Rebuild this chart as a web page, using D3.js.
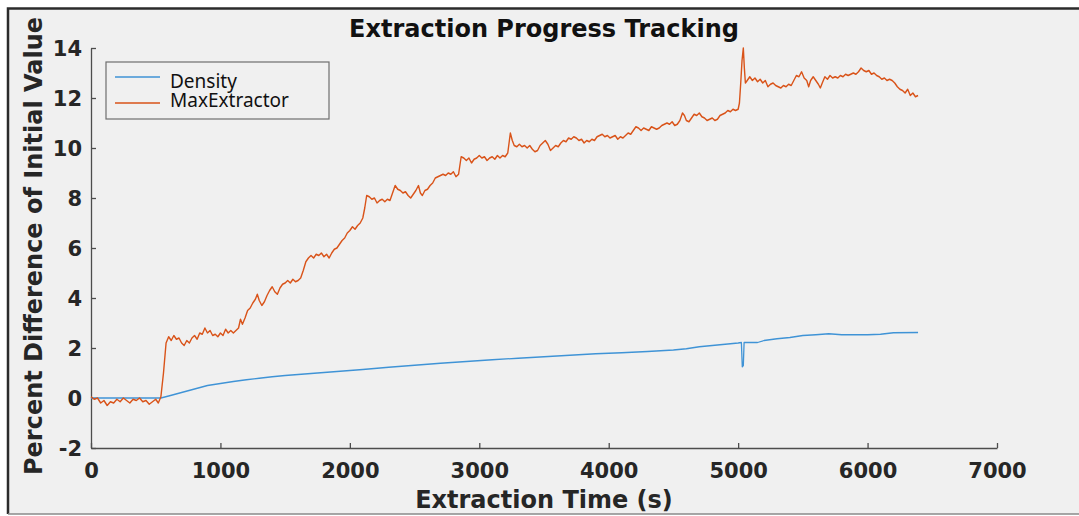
<!DOCTYPE html>
<html>
<head>
<meta charset="utf-8">
<script src="https://cdn.jsdelivr.net/npm/d3@7"></script>
<style>
  body { margin: 0; background: #fff; }
  svg { display: block; }
</style>
</head>
<body>
<svg id="chart" width="1079" height="516"></svg>
<script>
'use strict';

// tick values on both axes
var xTicks = [0, 1000, 2000, 3000, 4000, 5000, 6000, 7000];
var yTicks = [-2, 0, 2, 4, 6, 8, 10, 12, 14];

var seriesNames = ['Density', 'MaxExtractor'];
var seriesColors = ['#3f93d6', '#d95319'];

// [time (s), percent difference]
var density = [
  [0, 0.0], [200, 0.0], [400, 0.0], [540, 0.0], [600, 0.08], [700, 0.22], [800, 0.36],
  [900, 0.5], [1000, 0.58], [1100, 0.66], [1200, 0.73], [1300, 0.79], [1400, 0.85],
  [1500, 0.9], [1700, 0.98], [1900, 1.06], [2100, 1.14], [2300, 1.23], [2500, 1.31],
  [2700, 1.39], [2900, 1.46], [3100, 1.53], [3300, 1.59], [3500, 1.65], [3700, 1.71],
  [3900, 1.77], [4100, 1.81], [4300, 1.86], [4500, 1.92], [4600, 1.97], [4700, 2.05],
  [4800, 2.1], [4900, 2.15], [5000, 2.2], [5025, 2.22], [5032, 1.25], [5040, 1.3],
  [5046, 2.22], [5150, 2.22], [5200, 2.3], [5300, 2.37], [5400, 2.42], [5500, 2.5],
  [5600, 2.53], [5700, 2.57], [5800, 2.53], [5900, 2.53], [6000, 2.53], [6100, 2.55],
  [6200, 2.61], [6390, 2.62]
];

var maxExtractor = [
  [0, 0.05], [25, -0.05], [50, 0.0], [75, -0.2], [100, -0.1], [125, -0.3], [150, -0.15],
  [175, -0.2], [200, -0.05], [225, -0.15], [250, 0.0], [275, -0.1], [300, -0.2], [325, -0.05],
  [350, -0.1], [375, 0.0], [400, -0.15], [425, -0.1], [450, -0.25], [475, -0.15], [500, -0.05],
  [520, -0.2], [540, 0.05], [560, 1.0], [580, 2.2], [600, 2.45], [620, 2.3], [640, 2.5],
  [660, 2.35], [680, 2.4], [700, 2.2], [720, 2.1], [740, 2.3], [760, 2.2], [780, 2.4],
  [800, 2.5], [820, 2.35], [840, 2.6], [860, 2.55], [880, 2.8], [900, 2.6], [920, 2.7],
  [940, 2.5], [960, 2.55], [980, 2.45], [1000, 2.6], [1020, 2.5], [1040, 2.75], [1060, 2.6],
  [1080, 2.7], [1100, 2.6], [1120, 2.7], [1140, 2.8], [1155, 3.15], [1170, 2.95], [1190, 3.2],
  [1210, 3.5], [1230, 3.6], [1250, 3.8], [1270, 3.95], [1285, 4.15], [1300, 3.9], [1320, 3.7],
  [1340, 3.85], [1360, 4.1], [1380, 4.3], [1400, 4.45], [1420, 4.25], [1440, 4.15], [1460, 4.4],
  [1480, 4.55], [1500, 4.6], [1520, 4.7], [1540, 4.6], [1560, 4.75], [1580, 4.65], [1600, 4.7],
  [1620, 4.8], [1640, 5.1], [1660, 5.45], [1680, 5.6], [1700, 5.7], [1720, 5.6], [1740, 5.75],
  [1760, 5.7], [1780, 5.8], [1800, 5.65], [1820, 5.75], [1840, 5.6], [1860, 5.8], [1880, 5.95],
  [1900, 6.0], [1920, 6.15], [1940, 6.3], [1960, 6.4], [1980, 6.6], [2000, 6.7], [2020, 6.85],
  [2040, 6.75], [2060, 6.9], [2080, 7.0], [2100, 7.2], [2115, 7.6], [2130, 8.1], [2150, 8.05],
  [2170, 7.95], [2190, 8.0], [2210, 7.8], [2230, 7.9], [2250, 7.95], [2270, 7.85], [2290, 7.95],
  [2310, 7.9], [2330, 8.2], [2350, 8.5], [2370, 8.35], [2390, 8.3], [2410, 8.2], [2430, 8.25],
  [2450, 8.1], [2470, 8.0], [2490, 8.15], [2510, 8.3], [2530, 8.5], [2545, 8.2], [2560, 8.1],
  [2580, 8.3], [2600, 8.35], [2620, 8.5], [2640, 8.6], [2660, 8.8], [2680, 8.85], [2700, 8.9],
  [2720, 8.95], [2740, 8.9], [2760, 9.0], [2780, 8.95], [2800, 9.05], [2820, 8.85], [2840, 8.95],
  [2860, 9.65], [2880, 9.6], [2900, 9.5], [2920, 9.6], [2940, 9.4], [2960, 9.55], [2980, 9.6],
  [3000, 9.7], [3020, 9.6], [3040, 9.65], [3060, 9.5], [3080, 9.6], [3100, 9.65], [3120, 9.55],
  [3140, 9.7], [3160, 9.6], [3180, 9.7], [3200, 9.65], [3220, 9.8], [3240, 10.6], [3255, 10.3],
  [3270, 10.1], [3290, 10.05], [3310, 10.15], [3330, 10.05], [3350, 10.1], [3370, 10.0],
  [3390, 10.1], [3410, 9.95], [3430, 9.85], [3450, 9.9], [3470, 10.1], [3490, 10.2], [3510, 10.3],
  [3530, 10.15], [3550, 9.9], [3570, 10.0], [3590, 10.1], [3610, 10.05], [3630, 10.2],
  [3650, 10.3], [3670, 10.25], [3690, 10.4], [3710, 10.35], [3730, 10.45], [3750, 10.4],
  [3770, 10.3], [3790, 10.35], [3810, 10.2], [3830, 10.3], [3850, 10.25], [3870, 10.35],
  [3890, 10.3], [3910, 10.45], [3930, 10.5], [3950, 10.55], [3970, 10.45], [3990, 10.5],
  [4010, 10.4], [4030, 10.45], [4050, 10.5], [4070, 10.35], [4090, 10.45], [4110, 10.4],
  [4130, 10.5], [4150, 10.6], [4170, 10.55], [4190, 10.7], [4210, 10.85], [4230, 10.8],
  [4250, 10.7], [4270, 10.8], [4290, 10.75], [4310, 10.7], [4330, 10.85], [4350, 10.8],
  [4370, 10.75], [4390, 10.8], [4410, 10.9], [4430, 10.95], [4450, 11.0], [4470, 10.95],
  [4490, 11.05], [4510, 10.9], [4530, 10.95], [4550, 11.1], [4570, 11.4], [4585, 11.3],
  [4600, 11.1], [4620, 11.05], [4640, 11.2], [4660, 11.35], [4680, 11.3], [4700, 11.4],
  [4720, 11.25], [4740, 11.2], [4760, 11.1], [4780, 11.15], [4800, 11.2], [4820, 11.1],
  [4840, 11.15], [4860, 11.3], [4880, 11.35], [4900, 11.4], [4920, 11.5], [4940, 11.45],
  [4960, 11.55], [4980, 11.5], [5000, 11.55], [5010, 11.8], [5020, 12.6], [5030, 13.5],
  [5040, 14.0], [5048, 13.2], [5056, 12.6], [5070, 12.7], [5090, 12.85], [5110, 12.7],
  [5130, 12.8], [5150, 12.65], [5170, 12.75], [5190, 12.6], [5210, 12.7], [5230, 12.45],
  [5250, 12.55], [5270, 12.6], [5290, 12.5], [5310, 12.45], [5330, 12.4], [5350, 12.5],
  [5370, 12.45], [5390, 12.55], [5410, 12.5], [5430, 12.7], [5450, 12.9], [5470, 12.85],
  [5490, 13.05], [5510, 12.8], [5530, 12.7], [5545, 12.45], [5560, 12.7], [5580, 12.85],
  [5600, 12.7], [5620, 12.55], [5635, 12.4], [5650, 12.6], [5670, 12.85], [5690, 12.75],
  [5710, 12.9], [5730, 12.8], [5750, 12.85], [5770, 12.8], [5790, 12.9], [5810, 12.85],
  [5830, 12.95], [5850, 12.9], [5870, 12.95], [5890, 13.0], [5910, 12.95], [5930, 13.05],
  [5950, 13.2], [5970, 13.1], [5990, 13.05], [6010, 13.1], [6030, 12.95], [6050, 13.0],
  [6070, 12.9], [6090, 12.85], [6110, 12.75], [6130, 12.8], [6150, 12.7], [6170, 12.75],
  [6190, 12.7], [6210, 12.6], [6230, 12.45], [6250, 12.35], [6270, 12.3], [6290, 12.2],
  [6310, 12.35], [6330, 12.1], [6350, 12.2], [6370, 12.05], [6390, 12.1]
];

var svg = d3.select('#chart');
var margin = {left: 91, right: 82, top: 48, bottom: 68};
var width = 1079 - margin.left - margin.right;
var height = 516 - margin.top - margin.bottom;

// figure panel: dark frame top and left, lighter line along the bottom
svg.append('rect')
  .attr('x', 8).attr('y', 8)
  .attr('width', 1071).attr('height', 506)
  .attr('fill', '#f0f0f0');
svg.append('path')
  .attr('d', 'M8,514V8.5H1079')
  .attr('fill', 'none')
  .attr('stroke', '#2b2b2b')
  .attr('stroke-width', 2.5);
svg.append('line')
  .attr('x1', 8).attr('x2', 1079)
  .attr('y1', 514).attr('y2', 514)
  .attr('stroke', '#8a8a8a')
  .attr('stroke-width', 1.5);

var x = d3.scaleLinear().domain([0, 7000]).range([0, width]);
var y = d3.scaleLinear().domain([-2, 14]).range([height, 0]);

var g = svg.append('g').attr('transform', 'translate(' + margin.left + ',' + margin.top + ')');

// plain hyphen for negatives, like the original labels
var tickFmt = function(d) { return String(d); };

var xAxis = g.append('g')
  .attr('transform', 'translate(0,' + height + ')')
  .call(d3.axisBottom(x).tickValues(xTicks).tickFormat(tickFmt)
    .tickSizeInner(-5).tickSizeOuter(0).tickPadding(15));

var yAxis = g.append('g')
  .call(d3.axisLeft(y).tickValues(yTicks).tickFormat(tickFmt)
    .tickSizeInner(-5).tickSizeOuter(0).tickPadding(9));

[xAxis, yAxis].forEach(function(ax) {
  ax.selectAll('path, line').attr('stroke', '#4d4d4d').attr('stroke-width', 1.3);
  ax.selectAll('text')
    .attr('fill', '#262626')
    .style('font-family', '"DejaVu Sans", sans-serif')
    .style('font-weight', 'bold')
    .style('font-size', '21px');
});
yAxis.selectAll('text').attr('dy', '0.36em');

var line = d3.line()
  .x(function(d) { return x(d[0]); })
  .y(function(d) { return y(d[1]); });

// orange drawn last so it sits on top, like the original
[density, maxExtractor].forEach(function(series, i) {
  g.append('path')
    .datum(series)
    .attr('fill', 'none')
    .attr('stroke', seriesColors[i])
    .attr('stroke-width', i === 1 ? 1.4 : 1.3)
    .attr('stroke-linejoin', 'round')
    .attr('d', line);
});

// titles
var boldText = function(txt, px) {
  return svg.append('text')
    .text(txt)
    .attr('fill', '#111')
    .style('font-family', '"DejaVu Sans", sans-serif')
    .style('font-weight', 'bold')
    .style('font-size', px + 'px')
    .attr('text-anchor', 'middle');
};

boldText('Extraction Progress Tracking', 24).attr('x', 544).attr('y', 37);
boldText('Extraction Time (s)', 24).attr('x', 544).attr('y', 508).attr('fill', '#262626');
boldText('Percent Difference of Initial Value', 24)
  .attr('fill', '#262626')
  .attr('transform', 'translate(42,246) rotate(-90)');

// legend
var legend = svg.append('g').attr('transform', 'translate(106,62)');
legend.append('rect')
  .attr('width', 223).attr('height', 57)
  .attr('fill', '#f0f0f0')
  .attr('stroke', '#6e6e6e')
  .attr('stroke-width', 1.2);

seriesNames.forEach(function(name, i) {
  legend.append('line')
    .attr('x1', 9).attr('x2', 54)
    .attr('y1', 15 + i * 26).attr('y2', 15 + i * 26)
    .attr('stroke', seriesColors[i])
    .attr('stroke-width', 1.3);
  legend.append('text')
    .text(name)
    .attr('x', 64).attr('y', 26 + i * 19)
    .attr('fill', '#111')
    .style('font-family', '"Noto Sans", sans-serif')
    .style('font-size', '19px');
});
</script>
</body>
</html>
